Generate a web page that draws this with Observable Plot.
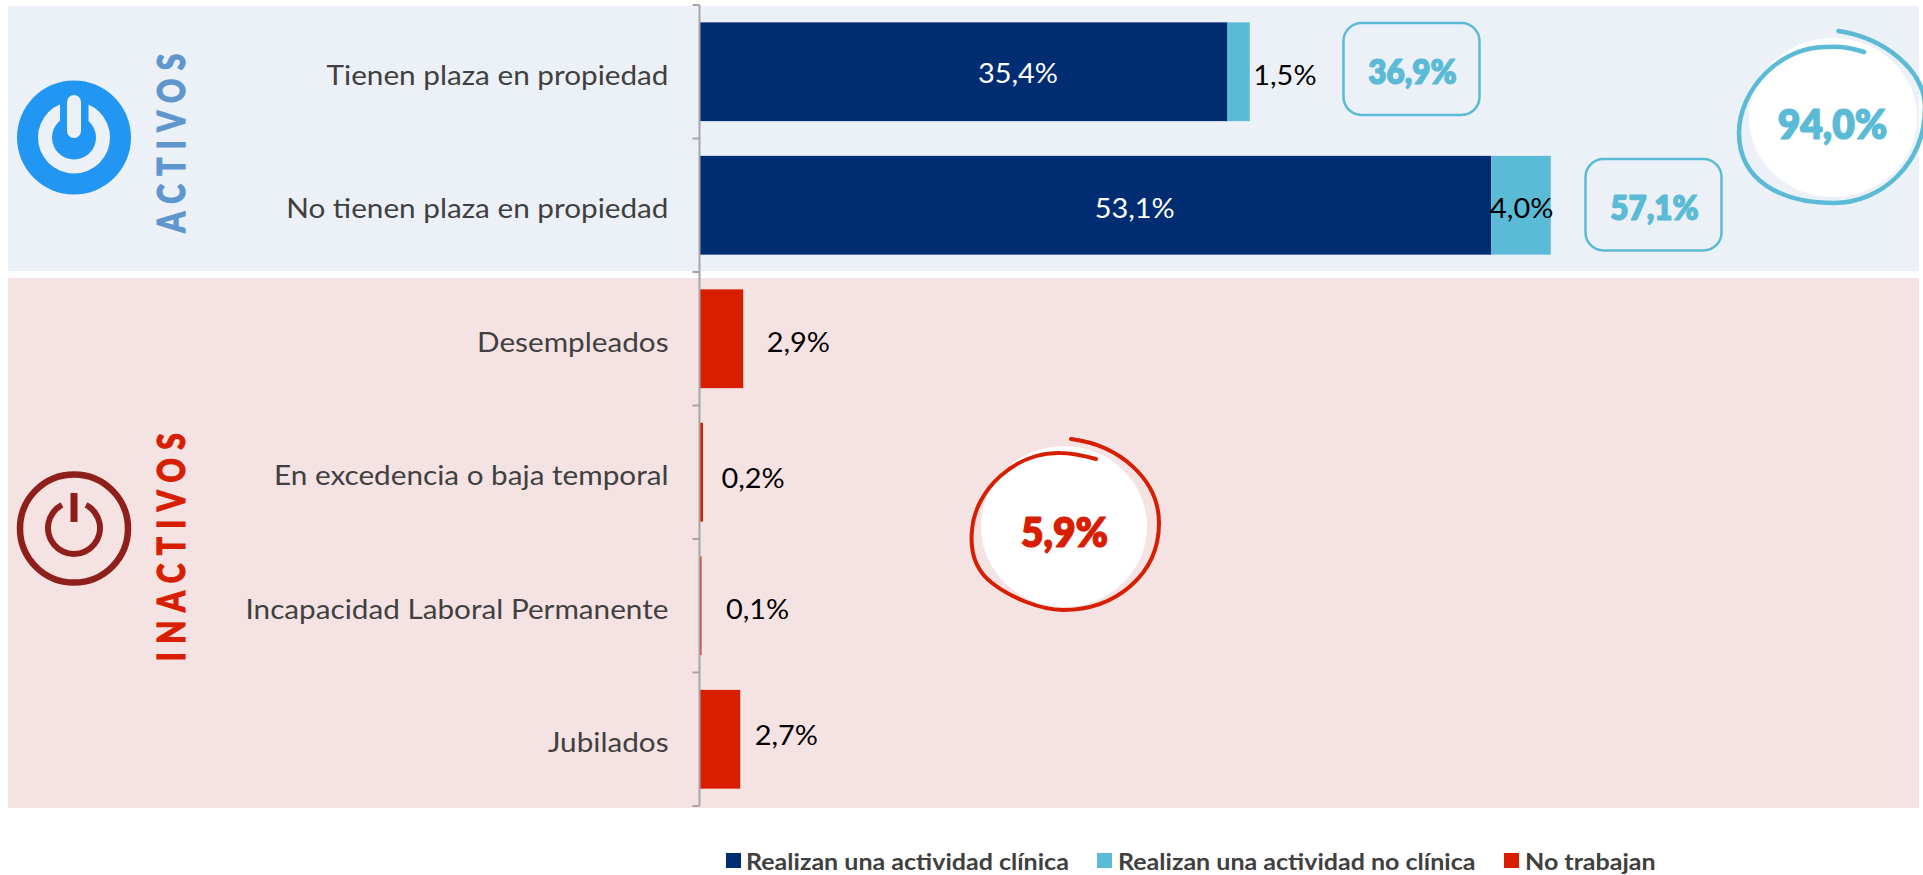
<!DOCTYPE html>
<html lang="es">
<head>
<meta charset="utf-8">
<script src="https://cdn.jsdelivr.net/npm/d3@7"></script>
<script src="https://cdn.jsdelivr.net/npm/@observablehq/plot@0.6"></script>
<style>
html,body{margin:0;padding:0;background:#fff;overflow:hidden;font-family:Lato,sans-serif}
#chart{position:absolute;left:0;top:0}
.lg{position:absolute;top:848px;left:0;width:1923px;height:27px;font:700 23.4px Lato,sans-serif;color:#404040}
.lg i{position:absolute;top:5px;width:15px;height:15px}
.lg span{position:absolute;top:0;white-space:nowrap;line-height:27px;transform:scaleX(1.07);transform-origin:left center}
</style>
</head>
<body>
<div id="chart"></div>
<div class="lg" id="legend"></div>
<script>
const categories = ["Tienen plaza en propiedad","No tienen plaza en propiedad","Desempleados","En excedencia o baja temporal","Incapacidad Laboral Permanente","Jubilados"];
const clinica    = [35.4,53.1,0,0,0,0];
const noClinica  = [1.5,4.0,0,0,0,0];
const noTrabajan = [0,0,2.9,0.2,0.1,2.7];
const seriesNames = ["Realizan una actividad clínica","Realizan una actividad no clínica","No trabajan"];
const seriesColors = ["#002d72","#5bbad5","#d81e00"];
const subtotals = [36.9,57.1];
const groupTotals = [94.0,5.9];
const groupNames = ["ACTIVOS","INACTIVOS"];

const fmt = v => v.toFixed(1).replace(".",",") + "%";
const rows = [];
categories.forEach((c,i)=>{
  [clinica,noClinica,noTrabajan].forEach((s,k)=>{ if(s[i]>0) rows.push({cat:c,serie:seriesNames[k],value:s[i]}); });
});

const svgEl = (name,attrs,parent) => { const e=document.createElementNS("http://www.w3.org/2000/svg",name);
  for(const k in attrs) e.setAttribute(k,attrs[k]); if(parent) parent.appendChild(e); return e; };

const decoBack = () => {
  const g = svgEl("g",{});
  svgEl("rect",{x:8,y:6,width:1911,height:265,fill:"#ecf1f8"},g);
  svgEl("rect",{x:8,y:278,width:1911,height:530,fill:"#f5e3e3"},g);
  // icono activos
  svgEl("circle",{cx:74,cy:137.5,r:57,fill:"#2196f3"},g);
  svgEl("circle",{cx:74,cy:137.5,r:36,fill:"#ecf1f8"},g);
  svgEl("circle",{cx:74,cy:137.5,r:22,fill:"#2196f3"},g);
  svgEl("rect",{x:60,y:98,width:28.5,height:40,fill:"#2196f3"},g);
  svgEl("rect",{x:67,y:95,width:14,height:43,rx:7,fill:"#ecf1f8"},g);
  // icono inactivos
  svgEl("circle",{cx:74,cy:528.5,r:54,fill:"none",stroke:"#8e1f1a","stroke-width":6.5},g);
  const arc = d3.arc()({innerRadius:23,outerRadius:29,startAngle:0.48,endAngle:2*Math.PI-0.48});
  svgEl("path",{d:arc,transform:"translate(74,528)",fill:"#8e1f1a"},g);
  svgEl("rect",{x:70.5,y:493,width:7,height:29,fill:"#8e1f1a"},g);
  // rótulos verticales
  const vt=(txt,fill,cy,ls)=>{ const t=svgEl("text",{transform:`translate(184.5,${cy}) rotate(-90) scale(1,1.28)`,"text-anchor":"middle",
     "font-family":"Lato","font-weight":900,"font-size":30,fill,stroke:fill,"stroke-width":.9,"letter-spacing":ls},g); t.textContent=txt; };
  vt(groupNames[0],"#5f96cd",139,8.4);
  vt(groupNames[1],"#d81e00",543,8.4);
  // burbujas
  svgEl("ellipse",{cx:1833,cy:117.5,rx:84,ry:79.5,fill:"#fff"},g);
  svgEl("ellipse",{cx:1064,cy:526.5,rx:83,ry:80.5,fill:"#fff"},g);
  svgEl("path",{d:"M1838.5,31 C1885,38 1923,70 1925,105 C1926,165 1880,203 1834,203 C1780,203 1739,180 1739,133 C1739,90 1780,46 1827,47 C1840,46 1852,48 1864,52",
    fill:"none",stroke:"#5bbad5","stroke-width":4.5,"stroke-linecap":"round"},g);
  svgEl("path",{d:"M1071,439 C1120,445 1159,480 1159,523 C1159,575 1115,610 1063,610 C1040,610 1010,597 992,583 C975,570 970,550 972,530 C975,490 1015,452 1060,453 C1072,453 1085,456 1096,459",
    fill:"none",stroke:"#d81e00","stroke-width":4,"stroke-linecap":"round"},g);
  // cajas de subtotales
  svgEl("rect",{x:1343.5,y:23,width:136,height:92,rx:18,fill:"none",stroke:"#5bbad5","stroke-width":2.5},g);
  svgEl("rect",{x:1585.5,y:159,width:136,height:91.5,rx:18,fill:"none",stroke:"#5bbad5","stroke-width":2.5},g);
  return g;
};

const axisLine = (index,{y,x}) => {
  const g = svgEl("g",{stroke:"#a6a6a6","stroke-width":2,fill:"none"});
  const step = typeof y.step==="function" ? y.step() : y.step;
  const bw = typeof y.bandwidth==="function" ? y.bandwidth() : y.bandwidth;
  const edges = categories.map(c => y(c) - (step-bw)/2);
  edges.push(y(categories[categories.length-1]) + bw + (step-bw)/2);
  const x0 = x(0) - 0.5;
  svgEl("line",{x1:x0,x2:x0,y1:edges[0],y2:edges[edges.length-1]},g);
  edges.forEach(e=>svgEl("line",{x1:x0-7,x2:x0,y1:e,y2:e},g));
  return g;
};

const big = {fontFamily:"Lato",fontWeight:800};
const label = (i,v,o) => Plot.text([{cat:categories[i],x:v,t:fmt(o.show)}],
  {x:"x",y:"cat",text:"t",fontSize:27,fontFamily:"Lato",lineAnchor:"middle",...o.style});

const plot = Plot.plot({
  width:1923,height:840,
  marginLeft:700,marginRight:0,marginTop:0,marginBottom:0,
  style:{background:"transparent",fontFamily:"Lato"},
  x:{domain:[0,1223/14.9],axis:null},
  y:{domain:categories,range:[5,806],paddingInner:.26,paddingOuter:.13,round:false,axis:null},
  color:{domain:seriesNames,range:seriesColors},
  marks:[
    decoBack,
    Plot.barX(rows,{x:"value",y:"cat",fill:"serie",order:seriesNames}),
    axisLine,
    Plot.axisY({anchor:"left",tickSize:0,tickPadding:32,fontSize:27,fontFamily:"Lato",dy:4,fill:"#404040",label:null}),
    label(0,clinica[0],{show:clinica[0],style:{fill:"#fff",textAnchor:"middle",dx:-210,dy:2}}),
    label(1,clinica[1],{show:clinica[1],style:{fill:"#fff",textAnchor:"middle",dx:-357,dy:4}}),
    label(0,clinica[0]+noClinica[0],{show:noClinica[0],style:{fill:"#000",textAnchor:"start",dx:3,dy:4}}),
    label(1,clinica[1]+noClinica[1],{show:noClinica[1],style:{fill:"#000",textAnchor:"end",dx:2,dy:4}}),
    label(2,noTrabajan[2],{show:noTrabajan[2],style:{fill:"#000",textAnchor:"start",dx:23,dy:4}}),
    label(3,noTrabajan[3],{show:noTrabajan[3],style:{fill:"#000",textAnchor:"start",dx:18,dy:7}}),
    label(4,noTrabajan[4],{show:noTrabajan[4],style:{fill:"#000",textAnchor:"start",dx:24,dy:4}}),
    label(5,noTrabajan[5],{show:noTrabajan[5],style:{fill:"#000",textAnchor:"start",dx:14,dy:-3}}),
    Plot.text([fmt(subtotals[0])],{x:0,y:()=>categories[0],text:d=>d,dx:712,dy:1,fontSize:33,fill:"#5bbad5",stroke:"#5bbad5",strokeWidth:1.2,...big}),
    Plot.text([fmt(subtotals[1])],{x:0,y:()=>categories[1],text:d=>d,dx:954,dy:4,fontSize:33,fill:"#5bbad5",stroke:"#5bbad5",strokeWidth:1.2,...big}),
    Plot.text([fmt(groupTotals[0])],{x:0,y:()=>categories[0],text:d=>d,dx:1132,dy:54,fontSize:41,fill:"#5bbad5",stroke:"#5bbad5",strokeWidth:1.2,...big}),
    Plot.text([fmt(groupTotals[1])],{x:0,y:()=>categories[3],text:d=>d,dx:364,dy:61,fontSize:41,fill:"#d81e00",stroke:"#d81e00",strokeWidth:1.2,...big})
  ]
});
document.getElementById("chart").appendChild(plot);

// Anchura de los textos, ajustada a la del original
plot.querySelectorAll("text").forEach(t=>{
  const fs = parseFloat(getComputedStyle(t).fontSize);
  let f = null;
  if (fs===27) f = t.closest('g[aria-label="y-axis tick label"]') ? 1.10 : 1.07;
  else if (fs===33||fs===41) f = 0.95;
  if (f) { t.setAttribute("textLength", t.getComputedTextLength()*f); t.setAttribute("lengthAdjust","spacingAndGlyphs"); }
});

const lg = document.getElementById("legend");
const lx = [[726,746],[1097,1118],[1504,1525]];
seriesNames.forEach((n,i)=>{
  const sq=document.createElement("i"); sq.style.left=lx[i][0]+"px"; sq.style.background=seriesColors[i]; lg.appendChild(sq);
  const sp=document.createElement("span"); sp.style.left=lx[i][1]+"px"; sp.textContent=n; lg.appendChild(sp);
});
</script>
</body>
</html>
